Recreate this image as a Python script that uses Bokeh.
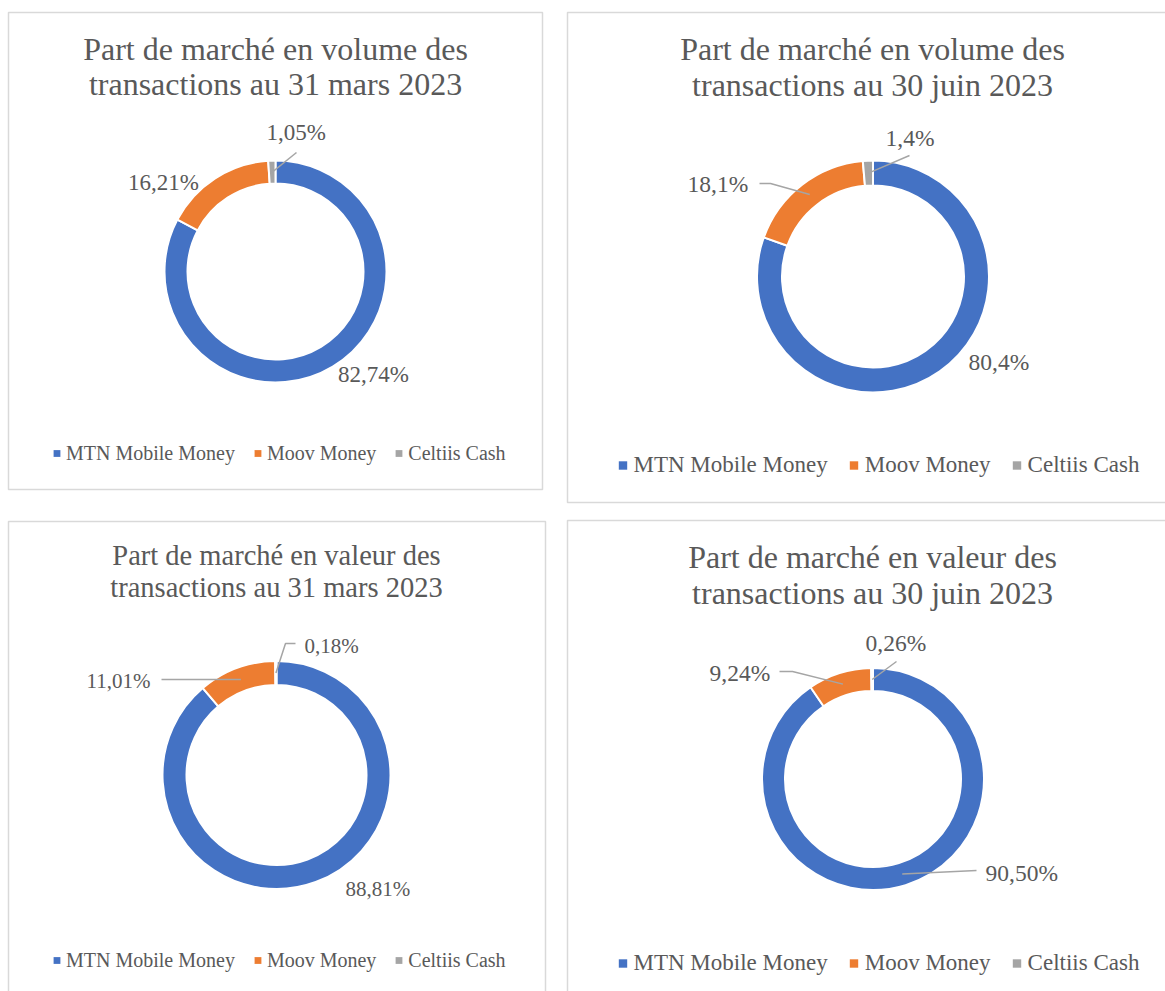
import math
from bokeh.plotting import figure
from bokeh.models import Range1d, Legend, LegendItem, ColumnDataSource
from bokeh.core.properties import value
from bokeh.embed import file_html
from bokeh.resources import INLINE

W, H = 1165, 991

# ---------------- data ----------------
operators = ["MTN Mobile Money", "Moov Money", "Celtiis Cash"]
colors = ["#4472C4", "#ED7D31", "#A5A5A5"]

title_volume_mar = ["Part de marché en volume des", "transactions au 31 mars 2023"]
title_volume_jun = ["Part de marché en volume des", "transactions au 30 juin 2023"]
title_valeur_mar = ["Part de marché en valeur des", "transactions au 31 mars 2023"]
title_valeur_jun = ["Part de marché en valeur des", "transactions au 30 juin 2023"]

volume_mar_2023 = [82.74, 16.21, 1.05]
volume_jun_2023 = [80.4, 18.1, 1.4]
valeur_mar_2023 = [88.81, 11.01, 0.18]
valeur_jun_2023 = [90.50, 9.24, 0.26]

label_decimals = [2, 1, 2, 2]

titles = [title_volume_mar, title_volume_jun, title_valeur_mar, title_valeur_jun]
series = [volume_mar_2023, volume_jun_2023, valeur_mar_2023, valeur_jun_2023]

# ---------------- layout (pixels, from top-left) ----------------
layout = [
    dict(box=(8, 542, 12, 489), cx=275, cy=271, r_out=111, r_in=88,
         title_x=275, title_y=(59, 94), title_fs=32, label_fs=23,
         labels=[(337.5, 381), (127.5, 189), (266, 139)],
         leaders=[None, None, [(296, 152)]],
         legend=(48, 453), legend_fs=20, glyph=17, standoff=1, spacing=14),
    dict(box=(567, 1180, 12, 502), cx=872.5, cy=276, r_out=116, r_in=91,
         title_x=872, title_y=(59, 95), title_fs=32, label_fs=23.5,
         labels=[(968, 369), (687, 191), (885, 145)],
         leaders=[None, [(770, 183), (759, 183)], [(909, 155)]],
         legend=(611.5, 465), legend_fs=23, glyph=21, standoff=1, spacing=15),
    dict(box=(8, 545, 521, 1010), cx=276, cy=774.5, r_out=114, r_in=90,
         title_x=276, title_y=(564, 596), title_fs=28.5, label_fs=21,
         labels=[(345, 895), (86, 687), (304, 652)],
         leaders=[None, [(161, 679)], [(285, 643), (295, 643)]],
         legend=(48, 960), legend_fs=20, glyph=17, standoff=1, spacing=14),
    dict(box=(567, 1180, 520, 1010), cx=872.5, cy=778.5, r_out=111, r_in=88,
         title_x=872, title_y=(567, 603), title_fs=32, label_fs=23.5,
         labels=[(985, 880), (709, 680), (865, 650)],
         leaders=[[(976, 870)], [(792, 671), (779, 671)], [(896, 661)]],
         legend=(611.5, 963), legend_fs=23, glyph=21, standoff=1, spacing=15),
]

TEXT_COLOR = "#595959"
FONT = "Liberation Serif"
BASELINE_FIX = 0.32  # fraction of font size to lift "alphabetic" text


def Y(v):
    return H - v


def fmt(v, d):
    return f"{v:.{d}f}".replace(".", ",") + "%"


p = figure(width=W, height=H, x_range=Range1d(0, W), y_range=Range1d(0, H),
           output_backend="svg", toolbar_location=None, min_border=0,
           x_axis_location=None, y_axis_location=None, outline_line_color=None)
p.grid.visible = False
p.background_fill_color = "white"
p.border_fill_color = "white"

# panel frames
p.quad(left=[L["box"][0] for L in layout], right=[L["box"][1] for L in layout],
       top=[Y(L["box"][2]) for L in layout], bottom=[Y(L["box"][3]) for L in layout],
       fill_color=None, line_color="#D9D9D9", line_width=1.5)

# legend-only renderers (no visible points)
nan = float("nan")
dummies = [p.scatter(x=[nan], y=[nan], marker="square", fill_color=c, line_color=None)
           for c in colors]

for vals, tlines, dec, L in zip(series, titles, label_decimals, layout):
    total = sum(vals)
    fracs = [v / total for v in vals]
    cum = [0.0]
    for f in fracs:
        cum.append(cum[-1] + f)
    starts = [math.pi / 2 - cum[i + 1] * 2 * math.pi for i in range(len(vals))]
    ends = [math.pi / 2 - cum[i] * 2 * math.pi for i in range(len(vals))]
    cx, cy = L["cx"], Y(L["cy"])
    src = ColumnDataSource(dict(x=[cx] * len(vals), y=[cy] * len(vals),
                                start=starts, end=ends, color=colors))
    p.annular_wedge(x="x", y="y", inner_radius=L["r_in"], outer_radius=L["r_out"],
                    inner_radius_units="screen", outer_radius_units="screen",
                    start_angle="start", end_angle="end", fill_color="color",
                    line_color="white", line_width=2, source=src)

    # leader lines: start at slice middle (mid ring radius)
    r_mid = (L["r_in"] + L["r_out"]) / 2
    for i, pts in enumerate(L["leaders"]):
        if not pts:
            continue
        mid = (cum[i] + cum[i + 1]) / 2
        ang = math.pi / 2 - mid * 2 * math.pi
        sx = cx + r_mid * math.cos(ang)
        sy = cy + r_mid * math.sin(ang)
        xs = [sx] + [q[0] for q in pts]
        ys = [sy] + [Y(q[1]) for q in pts]
        p.line(xs, ys, line_color="#A5A5A5", line_width=1.5)

    # data labels
    lfix = BASELINE_FIX * L["label_fs"]
    p.text(x=[q[0] for q in L["labels"]], y=[Y(q[1] - lfix) for q in L["labels"]],
           text=[fmt(v, dec) for v in vals], text_align="left",
           text_baseline="alphabetic", text_font=value(FONT),
           text_font_size=f"{L['label_fs']}px", text_color=TEXT_COLOR)

    # titles
    tfix = BASELINE_FIX * L["title_fs"]
    p.text(x=[L["title_x"]] * 2, y=[Y(b - tfix) for b in L["title_y"]], text=tlines,
           text_align="center", text_baseline="alphabetic", text_font=value(FONT),
           text_font_size=f"{L['title_fs']}px", text_color=TEXT_COLOR)

    # legend
    lh = 30
    lx, lyc = L["legend"]
    leg = Legend(items=[LegendItem(label=op, renderers=[d]) for op, d in zip(operators, dummies)],
                 orientation="horizontal", location=(lx, H - (lyc + lh / 2)),
                 glyph_width=L["glyph"], glyph_height=lh, label_height=lh,
                 label_standoff=L["standoff"], spacing=L["spacing"],
                 padding=0, margin=0, border_line_color=None,
                 background_fill_alpha=0, label_text_font=FONT,
                 label_text_font_size=f"{L['legend_fs']}px",
                 label_text_color=TEXT_COLOR)
    p.add_layout(leg, "center")

open("out.html", "w").write(file_html(p, INLINE))
